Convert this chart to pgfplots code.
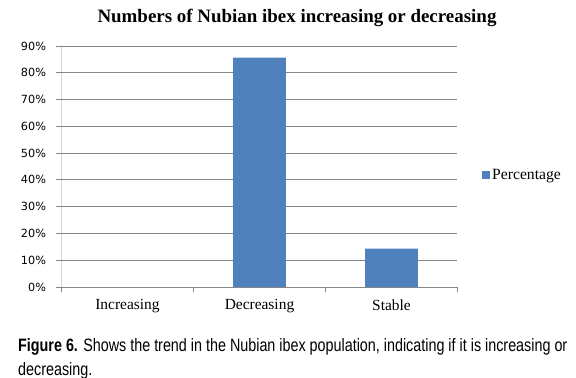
\documentclass[border=0pt]{standalone}
\usepackage{fontspec}
\setmainfont{Liberation Serif}
\newfontfamily\tickfont{DejaVu Sans}
\newfontfamily\capfont[FakeStretch=0.8]{Liberation Sans}
\usepackage{pgfplots}
\pgfplotsset{compat=1.18}
\definecolor{barblue}{HTML}{4F81BD}
\definecolor{gridgray}{HTML}{868686}
\begin{document}
\begin{tikzpicture}
\useasboundingbox (0,0) rectangle (576bp,378bp);
\begin{axis}[
  name=ax,
  at={(61.5bp,91bp)}, anchor=south west,
  scale only axis, width=396bp, height=241bp,
  xmin=-0.5, xmax=2.5, ymin=0, ymax=90,
  axis line style={draw=none},
  tick pos=left,
  ytick={0,10,...,90},
  yticklabel={\pgfmathprintnumber{\tick}\%},
  /pgf/number format/assume math mode=true,
  yticklabel style={font=\tickfont\fontsize{11.3}{13}\selectfont, text=black, xshift=-7bp},
  ymajorgrids, grid style={draw=gridgray, line width=0.8pt},
  tick align=outside, major tick length=5bp,
  tick style={draw=gridgray, line width=0.8pt},
  xtick={0,1,2},
  xticklabels={Increasing, Decreasing, Stable},
  major x tick style={draw=none},
  extra x ticks={-0.5,0.5,1.5,2.5},
  extra x tick labels={},
  extra x tick style={major x tick style={draw=gridgray, line width=0.8pt}},
  xticklabel style={font=\fontsize{15.5}{18}\selectfont, yshift=-4bp},
  ybar, bar width=0.4,
  legend style={at={(axis description cs:1.062,0.465)}, anchor=west, draw=none,
    font=\fontsize{15.7}{18}\selectfont, inner sep=0pt},
  legend image code/.code={\fill[barblue] (0bp,-4bp) rectangle (8bp,4bp);},
]
\addplot[fill=barblue, draw=none] coordinates {(0,0) (1,85.7) (2,14.3)};
\addlegendentry{Percentage}
\draw[gridgray, line width=0.8pt] (rel axis cs:0,1) -- (rel axis cs:0,0) -- (rel axis cs:1,0);
\end{axis}
\draw[white, line width=1.2pt] ([yshift=0.6pt]ax.south east) -- ([yshift=1pt]ax.north east);
\node[font=\bfseries\fontsize{19}{22}\selectfont] at (297bp,360.5bp) {Numbers of Nubian ibex increasing or decreasing};
\node[anchor=base west, inner sep=0pt, font=\capfont\fontsize{18}{21}\selectfont] at (18bp,27bp) {\textbf{Figure 6.} Shows the trend in the Nubian ibex population, indicating if it is increasing or};
\node[anchor=base west, inner sep=0pt, font=\capfont\fontsize{18}{21}\selectfont] at (18bp,3bp) {decreasing.};
\end{tikzpicture}
\end{document}
